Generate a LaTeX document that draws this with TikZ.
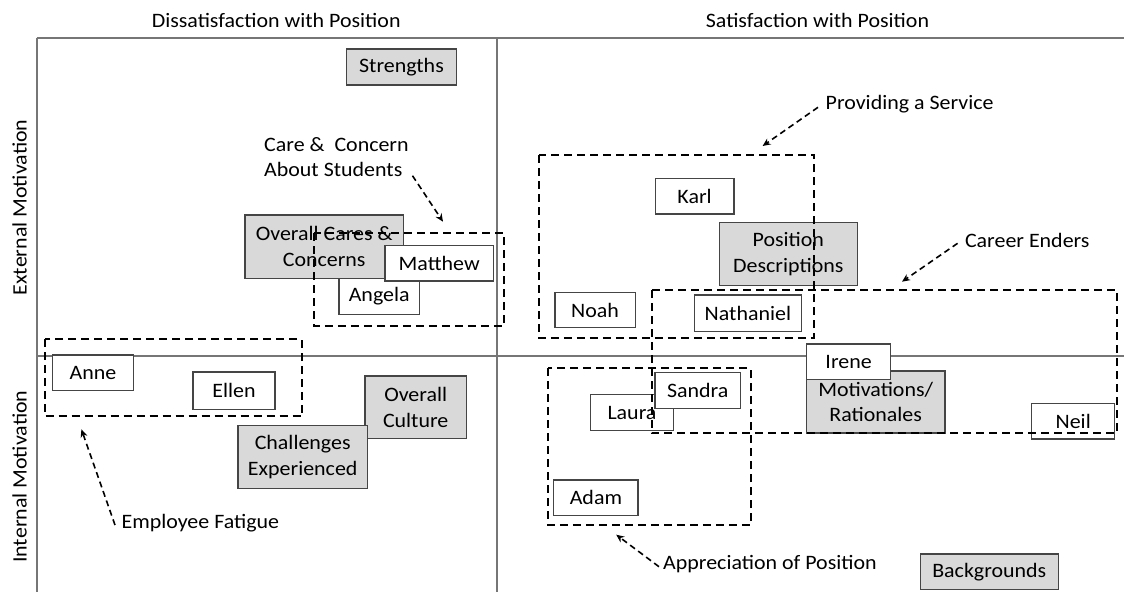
\documentclass[tikz,border=0pt]{standalone}
\usepackage{fontspec}
\setmainfont{Carlito}[FakeStretch=1.07]
\usetikzlibrary{arrows.meta}
\newcommand\figfont{\fontsize{20.5}{25.5}\selectfont}
\definecolor{framegray}{HTML}{767676}
\definecolor{boxborder}{HTML}{454545}
\definecolor{boxgray}{HTML}{D9D9D9}
\tikzset{
  frameline/.style={draw=framegray, line width=1.8pt},
  wbox/.style={draw=boxborder, line width=1.2pt, fill=white, inner sep=0pt, align=center, font=\figfont},
  gbox/.style={wbox, fill=boxgray},
  grp/.style={draw=black, line width=2pt, dash pattern=on 8pt off 5pt},
  callout/.style={draw=black, line width=1.6pt, dash pattern=on 6pt off 4pt, -{Stealth[length=8pt,width=7pt]}},
  lab/.style={inner sep=0pt, font=\figfont, align=left},
}
\begin{document}
\begin{tikzpicture}[x=1pt,y=-1pt]
\useasboundingbox (0,0) rectangle (1124,592);
% frame
\draw[frameline] (36.7,37.7) -- (1124,37.7);
\draw[frameline] (36.7,37.7) -- (36.7,592);
\draw[frameline] (497,37.7) -- (497,592);
\draw[frameline] (36.7,356) -- (1124,356);
% titles
\node[lab] (t-dis) at (276.2,20.7) {Dissatisfaction with Position};
\node[lab] (t-sat) at (817.5,20.7) {Satisfaction with Position};
\node[lab, rotate=90] (t-ext) at (19.6,207.5) {External Motivation};
\node[lab, rotate=90] (t-int) at (19.6,476.7) {Internal Motivation};
% boxes
\node[gbox, minimum width=110pt, minimum height=36pt] (strengths) at (401.5,67) {Strengths};
\node[wbox, minimum width=80.5pt, minimum height=36.3pt] (angela) at (379.2,296.2) {Angela};
\node[gbox, minimum width=158.5pt, minimum height=63.3pt] (cares) at (324.2,246.7) {Overall Cares \&\\Concerns};
\node[wbox, minimum width=108.5pt, minimum height=35.7pt] (matthew) at (439.2,263.1) {Matthew};
\node[wbox, minimum width=80.3pt, minimum height=35.7pt] (anne) at (93,372.8) {Anne};
\node[wbox, minimum width=82pt, minimum height=37.3pt] (ellen) at (234,390.7) {Ellen};
\node[gbox, minimum width=101.4pt, minimum height=62.7pt] (culture) at (415.7,407.3) {Overall\\Culture};
\node[gbox, minimum width=129.6pt, minimum height=63pt] (challenges) at (302.7,456.8) {Challenges\\Experienced};
\node[wbox, minimum width=78.8pt, minimum height=35.3pt] (karl) at (694.6,196.3) {Karl};
\node[gbox, minimum width=138pt, minimum height=63pt] (posdesc) at (788.3,254.2) {Position\\Descriptions};
\node[wbox, minimum width=80.4pt, minimum height=35.4pt] (noah) at (595.1,310) {Noah};
\node[wbox, minimum width=107.4pt, minimum height=36.7pt] (nathaniel) at (747.9,313.3) {Nathaniel};
\node[gbox, minimum width=138.4pt, minimum height=62pt] (motiv) at (875.7,402) {Motivations/\\Rationales};
\node[wbox, minimum width=84.3pt, minimum height=35.3pt] (irene) at (848.6,361.6) {Irene};
\node[wbox, minimum width=82.7pt, minimum height=35.5pt] (laura) at (632,412.5) {Laura};
\node[wbox, minimum width=85.3pt, minimum height=35.8pt] (sandra) at (697.7,390.4) {Sandra};
\node[wbox, minimum width=83.2pt, minimum height=35.7pt] (neil) at (1073.2,421.2) {Neil};
\node[wbox, minimum width=84.3pt, minimum height=35.7pt] (adam) at (595.9,497.9) {Adam};
\node[gbox, minimum width=138.1pt, minimum height=35.3pt] (backgrounds) at (989.3,571.7) {Backgrounds};
% groups
\draw[grp] (313.5,233.3) rectangle (504,326);
\draw[grp] (44.6,339.3) rectangle (301.8,416.3);
\draw[grp] (538.6,155) rectangle (814.4,337.7);
\draw[grp] (651.6,290) rectangle (1116.8,433.3);
\draw[grp] (547.8,368.3) rectangle (750.5,525.3);
% callout labels
\node[lab, anchor=west] (l-care) at (264,157) {Care \&\ \ Concern\\About Students};
\node[lab, anchor=west] (l-serv) at (825.5,104) {Providing a Service};
\node[lab, anchor=west] (l-end) at (964.8,240.7) {Career Enders};
\node[lab, anchor=west] (l-fat) at (121.4,522.7) {Employee Fatigue};
\node[lab, anchor=west] (l-app) at (663,564) {Appreciation of Position};
% callout arrows
\coordinate (care-s) at (412.5,175.7);
\coordinate (care-t) at (443,221.7);
\coordinate (serv-s) at (818,107.3);
\coordinate (serv-t) at (762.6,146);
\coordinate (end-s) at (957.6,243.3);
\coordinate (end-t) at (902,281.7);
\coordinate (fat-s) at (115,525);
\coordinate (fat-t) at (81.4,429.3);
\coordinate (app-s) at (659,566.7);
\coordinate (app-t) at (616.2,534.7);
\draw[callout] (care-s) -- (care-t);
\draw[callout] (serv-s) -- (serv-t);
\draw[callout] (end-s) -- (end-t);
\draw[callout] (fat-s) -- (fat-t);
\draw[callout] (app-s) -- (app-t);
\end{tikzpicture}
\end{document}
